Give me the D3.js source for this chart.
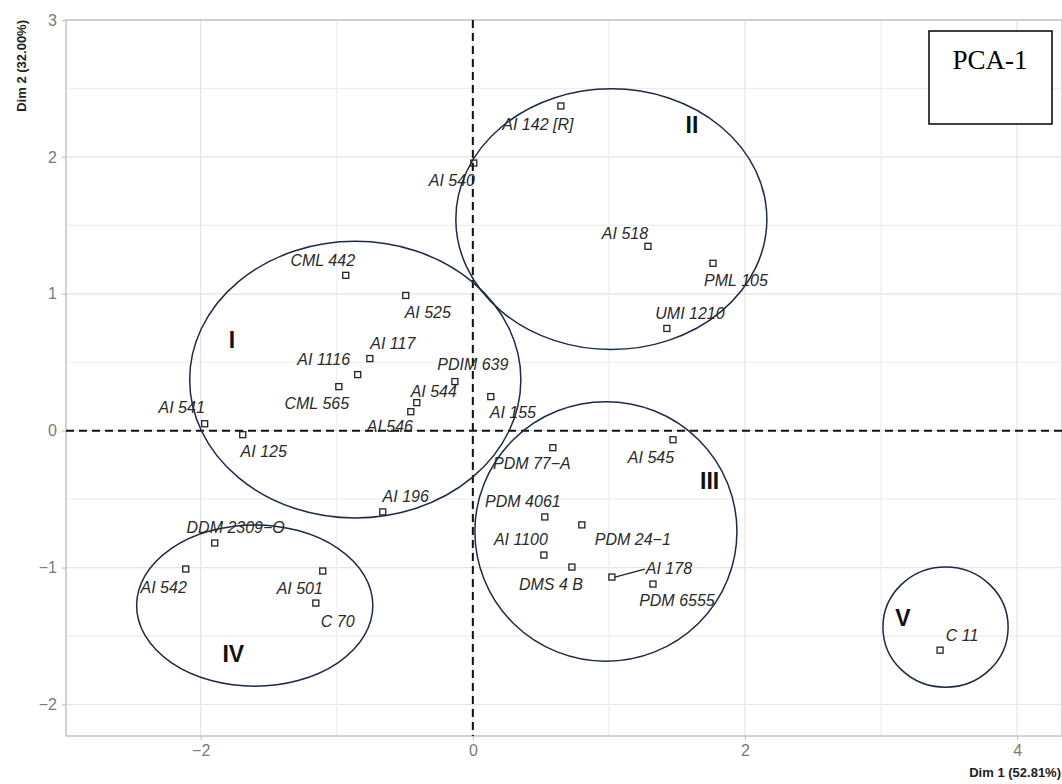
<!DOCTYPE html>
<html>
<head>
<meta charset="utf-8">
<script src="https://cdn.jsdelivr.net/npm/d3@7"></script>
<style>
  html, body { margin: 0; padding: 0; background: #fff; }
  svg { display: block; }
</style>
</head>
<body>
<svg id="chart" width="1062" height="784"></svg>
<script>
// Individuals on the first two principal components
const names = ["AI 142 [R]", "AI 540", "AI 518", "PML 105", "UMI 1210",
  "CML 442", "AI 525", "AI 117", "AI 1116", "CML 565", "PDIM 639", "AI 544",
  "AI 546", "AI 155", "AI 541", "AI 125", "AI 196",
  "PDM 77\u2212A", "AI 545", "PDM 4061", "PDM 24\u22121", "AI 1100", "DMS 4 B",
  "AI 178", "PDM 6555",
  "DDM 2309\u2212O", "AI 542", "AI 501", "C 70", "C 11"];
const dim1 = [0.647, 0.007, 1.287, 1.765, 1.426,
  -0.934, -0.493, -0.757, -0.846, -0.985, -0.132, -0.412,
  -0.456, 0.132, -1.971, -1.691, -0.662,
  0.588, 1.471, 0.529, 0.801, 0.522, 0.728,
  1.022, 1.324,
  -1.897, -2.110, -1.103, -1.154, 3.434];
const dim2 = [2.372, 1.955, 1.347, 1.223, 0.747,
  1.135, 0.988, 0.527, 0.410, 0.322, 0.359, 0.205,
  0.139, 0.249, 0.051, -0.029, -0.593,
  -0.124, -0.066, -0.630, -0.688, -0.908, -0.996,
  -1.069, -1.120,
  -0.820, -1.010, -1.025, -1.259, -1.603];
// Repelled label anchors (centre of each label, in component units)
const labelDim1 = [0.478, -0.154, 1.118, 1.934, 1.596,
  -1.103, -0.331, -0.588, -1.096, -1.147, 0.0, -0.287,
  -0.610, 0.294, -2.140, -1.537, -0.493,
  0.434, 1.309, 0.368, 1.176, 0.353, 0.574,
  1.441, 1.500,
  -1.743, -2.272, -1.272, -0.993, 3.596];
const labelDim2 = [2.240, 1.830, 1.442, 1.098, 0.857,
  1.245, 0.864, 0.637, 0.520, 0.198, 0.483, 0.286,
  0.029, 0.132, 0.168, -0.154, -0.483,
  -0.242, -0.198, -0.520, -0.798, -0.798, -1.120,
  -1.003, -1.237,
  -0.710, -1.142, -1.149, -1.391, -1.493];
const segmentLabels = ["AI 178"];

// Cluster outlines
const clusterNames = ["I", "II", "III", "IV", "V"];
const clusterCx = [-0.864, 1.018, 0.978, -1.603, 3.474];
const clusterCy = [0.373, 1.545, -0.736, -1.277, -1.435];
const clusterRx = [1.217, 1.143, 0.963, 0.868, 0.460];
const clusterRy = [1.010, 0.952, 0.948, 0.589, 0.439];
const clusterLabelX = [-1.77, 1.61, 1.74, -1.76, 3.16];
const clusterLabelY = [0.66, 2.23, -0.37, -1.63, -1.37];

const xTicks = [-2, 0, 2, 4];
const xGrid = [-2, -1, 0, 1, 2, 3, 4];
const yTicks = [-2, -1, 0, 1, 2, 3];
const yGrid = [-2, -1.5, -1, -0.5, 0, 0.5, 1, 1.5, 2, 2.5, 3];

const xTitle = "Dim 1 (52.81%)";
const yTitle = "Dim 2 (32.00%)";
const boxLabel = "PCA-1";

const svg = d3.select("#chart");
const panel = { left: 66, right: 1062, top: 20, bottom: 736 };

const x = d3.scaleLinear().domain([-2.99, 4.33]).range([panel.left, panel.right]);
const y = d3.scaleLinear().domain([-2.23, 3.0]).range([panel.bottom, panel.top]);

const fmt = v => (v < 0 ? "\u2212" + Math.abs(v) : String(v));

// Grid
const grid = svg.append("g");
grid.selectAll("line.h").data(yGrid).join("line")
  .attr("x1", panel.left).attr("x2", panel.right)
  .attr("y1", d => y(d)).attr("y2", d => y(d))
  .attr("stroke", d => Number.isInteger(d) ? "#e4e4e4" : "#eeeeee")
  .attr("stroke-width", 1.2);
grid.selectAll("line.v").data(xGrid).join("line")
  .attr("x1", d => x(d)).attr("x2", d => x(d))
  .attr("y1", panel.top).attr("y2", panel.bottom)
  .attr("stroke", d => d % 2 === 0 ? "#e4e4e4" : "#eeeeee")
  .attr("stroke-width", 1.2);

// Panel border
svg.append("rect")
  .attr("x", panel.left).attr("y", panel.top)
  .attr("width", panel.right - panel.left).attr("height", panel.bottom - panel.top)
  .attr("fill", "none").attr("stroke", "#c4c4c4").attr("stroke-width", 1.5);

// Axes
const xAxis = svg.append("g")
  .attr("transform", `translate(0,${panel.bottom})`)
  .call(d3.axisBottom(x).tickValues(xTicks).tickFormat(fmt).tickSize(4).tickPadding(5));
const yAxis = svg.append("g")
  .attr("transform", `translate(${panel.left},0)`)
  .call(d3.axisLeft(y).tickValues(yTicks).tickFormat(fmt).tickSize(4).tickPadding(5));
[xAxis, yAxis].forEach(a => {
  a.select(".domain").remove();
  a.selectAll(".tick line").attr("stroke", "#c4c4c4").attr("stroke-width", 1.2);
  a.selectAll(".tick text")
    .attr("fill", "#7a7a7a")
    .style("font-family", "'Liberation Sans', Arial, sans-serif")
    .style("font-size", "16px");
});

// Reference lines through the origin
svg.append("line")
  .attr("x1", panel.left).attr("x2", panel.right)
  .attr("y1", y(0)).attr("y2", y(0))
  .attr("stroke", "#111").attr("stroke-width", 2).attr("stroke-dasharray", "8,5");
svg.append("line")
  .attr("x1", x(0)).attr("x2", x(0))
  .attr("y1", panel.top).attr("y2", panel.bottom)
  .attr("stroke", "#111").attr("stroke-width", 2).attr("stroke-dasharray", "8,5");

// Cluster ellipses
const clusters = clusterNames.map((n, i) => ({
  name: n, cx: clusterCx[i], cy: clusterCy[i], rx: clusterRx[i], ry: clusterRy[i],
  lx: clusterLabelX[i], ly: clusterLabelY[i]
}));
const pxPerX = x(1) - x(0), pxPerY = y(0) - y(1);
svg.append("g").selectAll("ellipse").data(clusters).join("ellipse")
  .attr("cx", d => x(d.cx)).attr("cy", d => y(d.cy))
  .attr("rx", d => d.rx * pxPerX).attr("ry", d => d.ry * pxPerY)
  .attr("fill", "none").attr("stroke", "#1c2a48").attr("stroke-width", 1.5);
svg.append("g").selectAll("text").data(clusters).join("text")
  .attr("x", d => x(d.lx)).attr("y", d => y(d.ly))
  .attr("text-anchor", "middle").attr("dominant-baseline", "central")
  .style("font-family", "'Liberation Sans', Arial, sans-serif")
  .style("font-size", "23px").style("font-weight", "bold")
  .attr("fill", "#111")
  .text(d => d.name);

// Individuals
const inds = names.map((n, i) => ({
  name: n, d1: dim1[i], d2: dim2[i], l1: labelDim1[i], l2: labelDim2[i]
}));
const lbls = svg.append("g").selectAll("text").data(inds).join("text")
  .attr("x", d => x(d.l1)).attr("y", d => y(d.l2))
  .attr("text-anchor", "middle").attr("dominant-baseline", "central")
  .style("font-family", "'Liberation Sans', Arial, sans-serif")
  .style("font-size", "16px").style("font-style", "italic")
  .attr("fill", "#2a2a2a")
  .text(d => d.name);

// Leader segments for labels pushed away from their point
lbls.filter(d => segmentLabels.includes(d.name)).each(function (d) {
  const w = this.getComputedTextLength();
  svg.append("line")
    .attr("x1", x(d.d1) + 3).attr("y1", y(d.d2))
    .attr("x2", x(d.l1) - w / 2 - 1).attr("y2", y(d.l2) + 1)
    .attr("stroke", "#222").attr("stroke-width", 1.3);
});

const sq = 6;
svg.append("g").selectAll("rect").data(inds).join("rect")
  .attr("x", d => x(d.d1) - sq / 2).attr("y", d => y(d.d2) - sq / 2)
  .attr("width", sq).attr("height", sq)
  .attr("fill", "none").attr("stroke", "#222").attr("stroke-width", 1.3);

// Axis titles
svg.append("text")
  .attr("x", panel.right - 1).attr("y", 777)
  .attr("text-anchor", "end")
  .style("font-family", "'Liberation Sans', Arial, sans-serif")
  .style("font-size", "13px").style("font-weight", "bold")
  .attr("fill", "#222")
  .text(xTitle);
svg.append("text")
  .attr("transform", `translate(26,${panel.top}) rotate(-90)`)
  .attr("text-anchor", "end")
  .style("font-family", "'Liberation Sans', Arial, sans-serif")
  .style("font-size", "13px").style("font-weight", "bold")
  .attr("fill", "#222")
  .text(yTitle);

// Plot tag box
svg.append("rect")
  .attr("x", 929).attr("y", 31).attr("width", 123).attr("height", 93)
  .attr("fill", "#fff").attr("stroke", "#000").attr("stroke-width", 1.5);
svg.append("text")
  .attr("x", 990).attr("y", 69)
  .attr("text-anchor", "middle")
  .style("font-family", "'Liberation Serif', 'Times New Roman', serif")
  .style("font-size", "27px")
  .attr("fill", "#000")
  .text(boxLabel);
</script>
</body>
</html>
